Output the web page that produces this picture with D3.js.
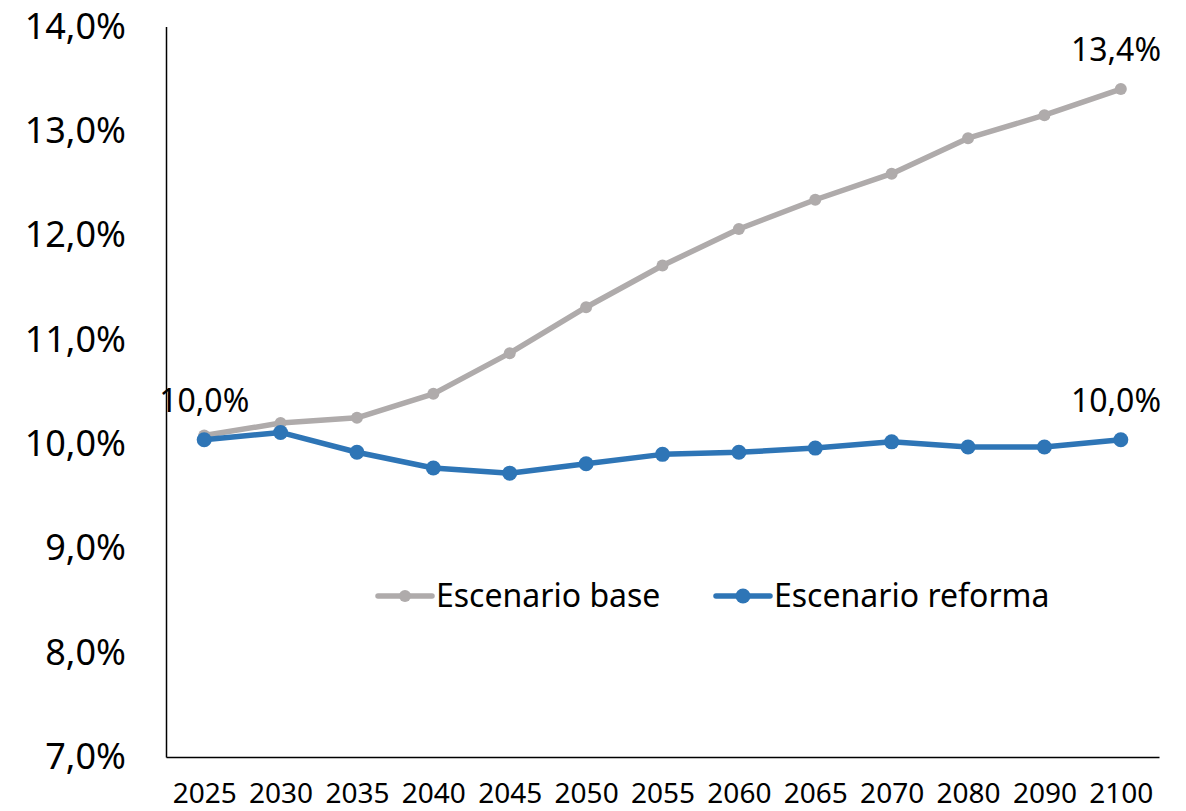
<!DOCTYPE html>
<html>
<head>
<meta charset="utf-8">
<script src="https://cdn.jsdelivr.net/npm/d3@7"></script>
<style>
  body { margin: 0; background: #fff; }
  svg { display: block; font-family: "Noto Sans", sans-serif; }
</style>
</head>
<body>
<svg id="chart" width="1186" height="811"></svg>
<script>
// DATA
const years = ["2025", "2030", "2035", "2040", "2045", "2050", "2055", "2060", "2065", "2070", "2080", "2090", "2100"];
const baseValues = [10.08, 10.20, 10.25, 10.48, 10.87, 11.31, 11.71, 12.06, 12.34, 12.59, 12.93, 13.15, 13.40];
const reformValues = [10.04, 10.11, 9.92, 9.77, 9.72, 9.81, 9.90, 9.92, 9.96, 10.02, 9.97, 9.97, 10.04];
const yTicks = [7, 8, 9, 10, 11, 12, 13, 14];

// labelled points: [series, index]
const labelled = [["reform", 0], ["base", 12], ["reform", 12]];

const baseColor = "#AFABAB";
const reformColor = "#2E75B6";

const locale = d3.formatLocale({decimal: ",", thousands: ".", grouping: [3], currency: ["", "€"]});
const pct = v => locale.format(".1f")(v) + "%";

const svg = d3.select("#chart");

// SCALES
const x = d3.scalePoint().domain(years).range([166, 1159]).padding(0.5);
const y = d3.scaleLinear().domain([7, 14]).range([757, 26.5]);

// AXES
const yAxis = svg.append("g")
    .attr("transform", "translate(166,0)")
    .call(d3.axisLeft(y).tickValues(yTicks).tickSize(0).tickPadding(40).tickFormat(pct));
yAxis.select(".domain").attr("stroke", "#000").attr("stroke-width", 1.5);
yAxis.selectAll("text").attr("font-size", 36).attr("fill", "#000").attr("font-family", "Noto Sans");

const xAxis = svg.append("g")
    .attr("transform", "translate(0,757)")
    .call(d3.axisBottom(x).tickSize(0).tickPadding(26));
xAxis.select(".domain").attr("stroke", "#000").attr("stroke-width", 1.5);
xAxis.selectAll("text").attr("font-size", 28).attr("fill", "#000").attr("font-family", "Noto Sans");

// LINES
const series = [
    {key: "base", values: baseValues, color: baseColor, r: 6},
    {key: "reform", values: reformValues, color: reformColor, r: 7.5}
];

const line = d3.line()
    .x((d, i) => x(years[i]))
    .y(d => y(d));

series.forEach(function(s) {
    svg.append("path")
        .datum(s.values)
        .attr("fill", "none")
        .attr("stroke", s.color)
        .attr("stroke-width", 5.5)
        .attr("stroke-linejoin", "round")
        .attr("d", line);

    svg.append("g").selectAll("circle")
        .data(s.values)
        .join("circle")
        .attr("cx", (d, i) => x(years[i]))
        .attr("cy", d => y(d))
        .attr("r", s.r)
        .attr("fill", s.color);
});

// DATA LABELS
labelled.forEach(function(l) {
    const s = series.find(d => d.key === l[0]);
    const v = s.values[l[1]];
    const t = svg.append("text")
        .attr("x", x(years[l[1]]))
        .attr("y", y(v) - 28)
        .attr("text-anchor", "middle")
        .attr("font-size", 32)
        .attr("fill", "#000")
        .text(pct(v));
    // keep the label inside the plot area
    const w = t.node().getComputedTextLength();
    if (x(years[l[1]]) + w / 2 > 1161) {
        t.attr("text-anchor", "end").attr("x", 1161);
    }
});

// LEGEND
const legend = [
    {name: "Escenario base", color: baseColor, r: 6, x: 378},
    {name: "Escenario reforma", color: reformColor, r: 7.5, x: 716}
];

legend.forEach(function(d) {
    const g = svg.append("g").attr("transform", `translate(${d.x},596)`);
    g.append("line")
        .attr("x1", 0).attr("x2", 54)
        .attr("stroke", d.color)
        .attr("stroke-width", 5.5)
        .attr("stroke-linecap", "round");
    g.append("circle")
        .attr("cx", 27)
        .attr("r", d.r)
        .attr("fill", d.color);
    g.append("text")
        .attr("x", 58)
        .attr("y", 11)
        .attr("font-size", 32)
        .attr("fill", "#000")
        .text(d.name);
});
</script>
</body>
</html>
